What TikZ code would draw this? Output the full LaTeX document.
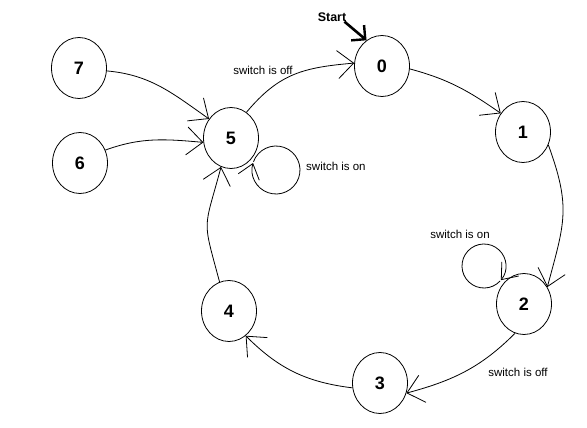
\documentclass[tikz,border=0pt]{standalone}
\usepackage{fontspec}
\setmainfont{Liberation Sans}
\usetikzlibrary{arrows.meta,shapes.geometric}
\begin{document}
\begin{tikzpicture}[x=1pt,y=1pt,
  state/.style={ellipse,draw,line width=0.8pt,minimum width=55pt,minimum height=61pt,inner sep=0pt,font=\fontsize{18}{18}\selectfont\bfseries},
  lbl/.style={font=\fontsize{11.5}{12}\selectfont,inner sep=0pt},
  arr/.style={line width=0.8pt,-{Straight Barb[length=16pt,width=28pt,line width=0.8pt]}},
  looparr/.style={line width=0.8pt,-{Straight Barb[length=14pt,width=22pt,line width=0.8pt]}},
  startarr/.style={line width=2.6pt,-{Straight Barb[length=10pt,width=20pt,line width=2.4pt]}},
]
\useasboundingbox (0,0) rectangle (587,-428);
\fill[white] (0,0) rectangle (587,-428);

\node[state] (n0) at (382,-66) {0};
\node[state] (n1) at (523,-132) {1};
\node[state] (n2) at (524,-304) {2};
\node[state] (n3) at (380,-383) {3};
\node[state] (n4) at (229,-311) {4};
\node[state] (n5) at (231,-138) {5};
\node[state] (n6) at (80,-163) {6};
\node[state] (n7) at (79,-68) {7};

\node[font=\fontsize{12.5}{13}\selectfont\bfseries,inner sep=0pt] (start) at (332,-17) {Start};
\draw[startarr] ([xshift=-2pt]start.south east) -- (n0.121);

\draw[arr] (n7.-6) to[out=-5,in=145] (n5.139);
\draw[arr] (n6.27) to[out=20,in=175] (n5.189);
\draw[arr] (n5.59) to[out=50,in=185,looseness=1.1] (n0.174);
\draw[arr] (n0.-6) to[out=-15,in=145] (n1.140);
\draw[arr] (n1.-27) to[out=-70,in=75,looseness=1.2] (n2.36);
\draw[arr] (n2.-107) to[out=-135,in=15] (n3.-21);
\draw[arr] (n3.190) to[out=173,in=-45] (n4.-56);
\draw[arr] (n4.108) to[out=105,in=-105,looseness=1.5] (n5.-109);

\coordinate (l5) at (276,-170);
\draw[looparr] ([shift={(160:24)}]l5) arc[start angle=160,end angle=-197,radius=24];
\coordinate (l2) at (484,-266);
\draw[looparr] ([shift={(317:22)}]l2) arc[start angle=317,end angle=-40,radius=22];

\node[lbl] (off5) at (263,-70) {switch is off};
\node[lbl,anchor=west] (on5) at (306,-166) {switch is on};
\node[lbl] (on2) at (460,-234) {switch is on};
\node[lbl] (off2) at (518,-372) {switch is off};
\end{tikzpicture}
\end{document}
